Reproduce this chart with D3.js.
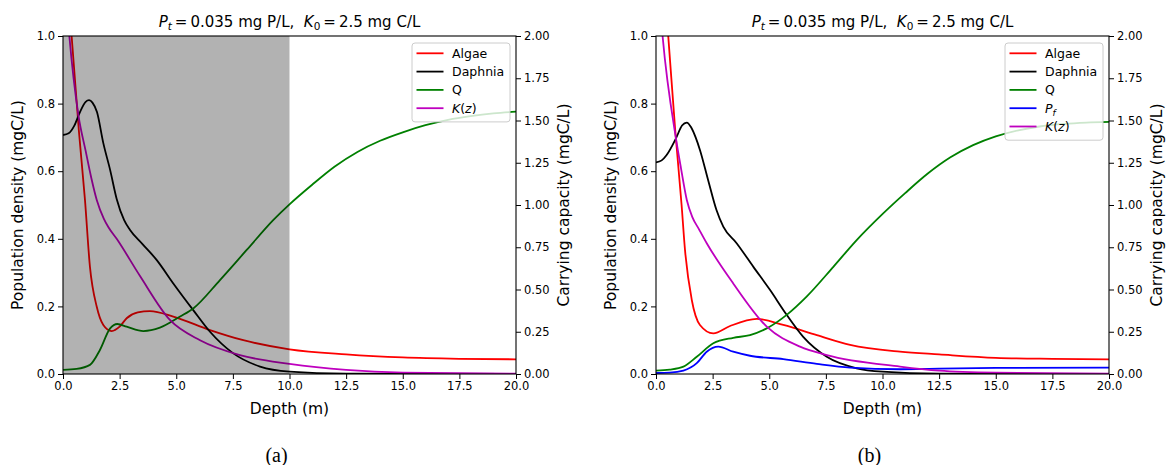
<!DOCTYPE html>
<html>
<head>
<meta charset="utf-8">
<script src="https://d3js.org/d3.v7.min.js"></script>
<style>
  body { margin: 0; background: #fff; }
  text { font-family: "DejaVu Sans", sans-serif; fill: #000; }
</style>
</head>
<body>
<div id="my_dataviz"></div>
<script>
// depth (m), value pairs
// panel (a)
var algaeA   = [[0,1.40],[0.38,1.0],[0.7,0.72],[0.97,0.515],[1.19,0.317],[1.49,0.199],[1.78,0.145],[2.15,0.127],[2.5,0.14],[2.81,0.165],[3.3,0.182],[3.84,0.186],[4.87,0.17],[6.49,0.13],[7.96,0.1],[10,0.073],[12.5,0.058],[15,0.049],[17.5,0.045],[20,0.0435]];
var daphniaA = [[0,0.707],[0.25,0.712],[0.5,0.735],[0.75,0.775],[1.0,0.805],[1.15,0.81],[1.3,0.803],[1.5,0.775],[1.78,0.683],[2.08,0.604],[2.37,0.518],[2.7,0.455],[2.96,0.426],[3.5,0.385],[4.14,0.337],[4.87,0.268],[5.75,0.189],[6.49,0.125],[7.52,0.061],[8.7,0.022],[10,0.007],[12.5,0.001],[20,0]];
var qA       = [[0,0.012],[0.6,0.015],[1.19,0.027],[1.63,0.071],[2.08,0.135],[2.4,0.148],[2.81,0.14],[3.55,0.127],[4.28,0.137],[5.17,0.17],[5.75,0.194],[6.93,0.278],[8.11,0.367],[9.29,0.456],[10,0.502],[11,0.56],[12,0.614],[13,0.657],[14,0.69],[15,0.715],[16,0.736],[17,0.752],[18,0.763],[19,0.771],[20,0.776]];
var kA       = [[0,2.5],[0.28,2.0],[0.68,1.532],[1.0,1.32],[1.25,1.16],[1.49,1.03],[1.8,0.92],[2.0,0.87],[2.37,0.80],[3.4,0.58],[4.72,0.32],[6.05,0.2],[7.81,0.112],[10,0.06],[12.5,0.024],[15,0.008],[20,0.002]];
// panel (b)
var algaeB   = [[0,1.45],[0.54,1.0],[0.85,0.72],[1.13,0.5],[1.28,0.367],[1.58,0.219],[1.94,0.145],[2.53,0.12],[3.27,0.142],[4.45,0.163],[5.62,0.145],[7.1,0.115],[8.57,0.086],[10.77,0.066],[12.5,0.058],[15,0.048],[17.5,0.045],[20,0.0435]];
var daphniaB = [[0,0.626],[0.25,0.632],[0.47,0.648],[0.88,0.697],[1.15,0.735],[1.36,0.744],[1.55,0.73],[1.75,0.70],[1.94,0.663],[2.3,0.574],[2.67,0.485],[2.97,0.436],[3.56,0.387],[4.3,0.317],[5.03,0.249],[5.77,0.175],[6.5,0.11],[7.54,0.051],[8.86,0.017],[10,0.007],[12.5,0.001],[20,0]];
var qB       = [[0,0.01],[0.6,0.013],[1.21,0.022],[1.8,0.051],[2.53,0.091],[3.41,0.107],[4.15,0.115],[4.89,0.135],[5.77,0.175],[6.65,0.229],[7.83,0.317],[8.86,0.396],[10.03,0.475],[11,0.535],[12,0.593],[13,0.641],[14,0.677],[15,0.703],[16,0.721],[17,0.733],[18,0.74],[19,0.744],[20,0.746]];
var pfB      = [[0,0.003],[0.6,0.004],[1.21,0.01],[1.8,0.032],[2.24,0.066],[2.75,0.081],[3.41,0.066],[4.15,0.054],[5.62,0.044],[7.1,0.03],[8.57,0.019],[10.77,0.014],[12.5,0.016],[15,0.018],[20,0.019]];
var kB       = [[0,2.5],[0.29,2.0],[0.88,1.394],[1.1,1.22],[1.36,1.03],[1.6,0.93],[1.9,0.856],[2.24,0.774],[3.41,0.536],[4.89,0.28],[6.36,0.162],[7.54,0.112],[10.77,0.044],[12.5,0.02],[15,0.008],[20,0.002]];

var xTicks = [0,2.5,5,7.5,10,12.5,15,17.5,20];
var yTicks = [0,0.2,0.4,0.6,0.8,1.0];
var y2Ticks = [0,0.25,0.5,0.75,1.0,1.25,1.5,1.75,2.0];
var shadeRange = [0,10];   // shaded depth band in panel (a)

var W = 1167, H = 465;
var svg = d3.select("#my_dataviz").append("svg")
    .attr("width", W).attr("height", H);

var plotTop = 36, plotBottom = 374;

function drawPanel(left, right, id, series, shaded, caption) {
    var x = d3.scaleLinear().domain([0, 20]).range([left, right]);
    var y = d3.scaleLinear().domain([0, 1]).range([plotBottom, plotTop]);
    var y2 = d3.scaleLinear().domain([0, 2]).range([plotBottom, plotTop]);

    svg.append("clipPath").attr("id", "clip" + id)
      .append("rect").attr("x", left).attr("y", plotTop)
      .attr("width", right - left).attr("height", plotBottom - plotTop);

    var plot = svg.append("g").attr("clip-path", "url(#clip" + id + ")");

    series.forEach(function(s) {
        var sc = s.right ? y2 : y;
        var line = d3.line()
            .x(function(d) { return x(d[0]); })
            .y(function(d) { return sc(d[1]); })
            .curve(d3.curveMonotoneX);
        plot.append("path").datum(s.data)
            .attr("fill", "none").attr("stroke", s.color)
            .attr("stroke-width", 1.8).attr("d", line);
    });

    if (shaded) {
        plot.append("rect")
            .attr("x", x(shadeRange[0])).attr("y", plotTop)
            .attr("width", x(shadeRange[1]) - x(shadeRange[0]))
            .attr("height", plotBottom - plotTop)
            .attr("fill", "#000").attr("fill-opacity", 0.3);
    }

    // axes
    svg.append("g").attr("transform", "translate(0," + plotBottom + ")")
        .call(d3.axisBottom(x).tickValues(xTicks).tickFormat(d3.format(".1f")).tickSize(5).tickPadding(3))
        .call(styleAxis);
    svg.append("g").attr("transform", "translate(" + left + ",0)")
        .call(d3.axisLeft(y).tickValues(yTicks).tickFormat(d3.format(".1f")).tickSize(5).tickPadding(3))
        .call(styleAxis);
    svg.append("g").attr("transform", "translate(" + right + ",0)")
        .call(d3.axisRight(y2).tickValues(y2Ticks).tickFormat(d3.format(".2f")).tickSize(5).tickPadding(3))
        .call(styleAxis);

    svg.append("rect").attr("x", left).attr("y", plotTop)
        .attr("width", right - left).attr("height", plotBottom - plotTop)
        .attr("fill", "none").attr("stroke", "#000").attr("stroke-width", 1.1);

    // title
    var cx = (left + right) / 2;
    var t = svg.append("text").attr("x", cx).attr("y", 27)
        .attr("text-anchor", "middle").style("font-size", "15px");
    t.append("tspan").style("font-style", "italic").text("P");
    t.append("tspan").style("font-style", "italic").style("font-size", "10.5px").attr("dy", 3).text("t");
    t.append("tspan").attr("dy", -3).text("\u2009=\u20090.035 mg P/L,\u00a0\u00a0");
    t.append("tspan").style("font-style", "italic").text("K");
    t.append("tspan").style("font-size", "10.5px").attr("dy", 3).text("0");
    t.append("tspan").attr("dy", -3).text("\u2009=\u20092.5 mg C/L");

    // axis labels
    svg.append("text").attr("x", cx).attr("y", 414)
        .attr("text-anchor", "middle").style("font-size", "15.5px").text("Depth (m)");
    svg.append("text")
        .attr("transform", "translate(" + (left - 40) + "," + ((plotTop + plotBottom) / 2) + ") rotate(-90)")
        .attr("text-anchor", "middle").style("font-size", "15.5px")
        .text("Population density (mgC/L)");
    svg.append("text")
        .attr("transform", "translate(" + (right + 53) + "," + ((plotTop + plotBottom) / 2) + ") rotate(-90)")
        .attr("text-anchor", "middle").style("font-size", "15.5px")
        .text("Carrying capacity (mgC/L)");

    // legend
    var lw = 98, lh = 5.7 + series.length * 18.3;
    var lx = right - 6 - lw, ly = plotTop + 7;
    var lg = svg.append("g");
    lg.append("rect").attr("x", lx).attr("y", ly).attr("width", lw).attr("height", lh)
        .attr("rx", 3).attr("fill", "#fff").attr("fill-opacity", 0.8)
        .attr("stroke", "#cccccc").attr("stroke-width", 1);
    series.forEach(function(s, i) {
        var yy = ly + 10.3 + i * 18.3;
        lg.append("line").attr("x1", lx + 4.5).attr("x2", lx + 31.5)
            .attr("y1", yy).attr("y2", yy)
            .attr("stroke", s.color).attr("stroke-width", 1.8);
        var tx = lg.append("text").attr("x", lx + 40).attr("y", yy + 4.5)
            .style("font-size", "12.5px");
        s.label(tx);
    });

    svg.append("text").attr("x", cx - 13).attr("y", 462)
        .attr("text-anchor", "middle")
        .style("font-family", "'Liberation Serif', serif").style("font-size", "20px")
        .text(caption);
}

function styleAxis(g) {
    g.select(".domain").remove();
    g.selectAll(".tick line").attr("stroke", "#000").attr("stroke-width", 1);
    g.selectAll(".tick text").style("font-size", "11.5px").style("font-family", "DejaVu Sans");
}

function plain(str) { return function(t) { t.text(str); }; }
function kLabel(t) {
    t.append("tspan").style("font-style", "italic").text("K");
    t.append("tspan").text("(");
    t.append("tspan").style("font-style", "italic").text("z");
    t.append("tspan").text(")");
}
function pfLabel(t) {
    t.append("tspan").style("font-style", "italic").text("P");
    t.append("tspan").style("font-style", "italic").style("font-size", "9px").attr("dy", 3).text("f");
}

drawPanel(63, 516, "a", [
    {data: algaeA, color: "#ff0000", label: plain("Algae")},
    {data: daphniaA, color: "#000000", label: plain("Daphnia")},
    {data: qA, color: "#008000", label: plain("Q")},
    {data: kA, color: "#bf00bf", right: true, label: kLabel}
], true, "(a)");

drawPanel(656, 1109, "b", [
    {data: algaeB, color: "#ff0000", label: plain("Algae")},
    {data: daphniaB, color: "#000000", label: plain("Daphnia")},
    {data: qB, color: "#008000", label: plain("Q")},
    {data: pfB, color: "#0000ff", label: pfLabel},
    {data: kB, color: "#bf00bf", right: true, label: kLabel}
], false, "(b)");
</script>
</body>
</html>
